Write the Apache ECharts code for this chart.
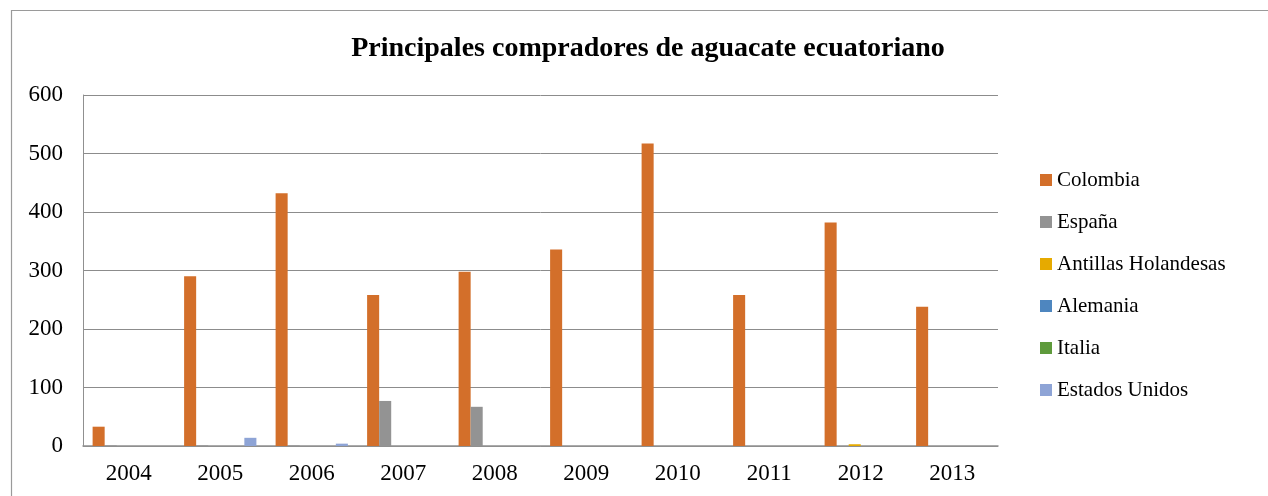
<!DOCTYPE html>
<html><head><meta charset="utf-8">
<script src="https://cdn.jsdelivr.net/npm/echarts@6/dist/echarts.min.js"></script>
<style>html,body{margin:0;padding:0;background:#fff;}#c{width:1268px;height:496px;}</style>
</head><body><div id="c"></div>
<script>
const years = ['2004','2005','2006','2007','2008','2009','2010','2011','2012','2013'];
const colombia = [33, 290, 432, 258, 298, 336, 517, 258, 382, 238];
const espana = [1, 1, 1, 77, 67, 0, 0, 0, 0, 0];
const antillas = [0, 0, 0, 0, 0, 0, 0, 0, 3, 0];
const alemania = [0, 0, 0, 0, 0, 0, 0, 0, 0, 0];
const italia = [0, 0, 0, 0, 0, 0, 0, 0, 0, 0];
const estadosUnidos = [0, 14, 4, 0, 0, 0, 0, 0, 0, 0];
const seriesNames = ['Colombia','España','Antillas Holandesas','Alemania','Italia','Estados Unidos'];
const seriesData = [colombia, espana, antillas, alemania, italia, estadosUnidos];
const colors = ['#D36F2A','#939393','#E6AA00','#4E86BF','#5E9A3C','#8EA4D6'];
const font = '"Liberation Serif", "Times New Roman", serif';

const chart = echarts.init(document.getElementById('c'));
chart.setOption({
  animation: false,
  color: colors,
  graphic: [{
    type: 'rect', left: 9, top: 8, z: -10,
    shape: { width: 1300, height: 600 },
    style: { fill: 'none', stroke: '#9a9a9a', lineWidth: 1.2 }
  }],
  title: {
    text: 'Principales compradores de aguacate ecuatoriano',
    left: 643, textAlign: 'center', top: 30,
    textStyle: { fontFamily: font, fontSize: 28, fontWeight: 'bold', color: '#000' }
  },
  legend: {
    orient: 'vertical', left: 1035, top: 163,
    itemWidth: 12, itemHeight: 12, itemGap: 18, icon: 'rect',
    textStyle: { fontFamily: font, fontSize: 21, color: '#000', lineHeight: 24 },
    data: seriesNames
  },
  grid: { left: 83, right: 270, top: 95, bottom: 50, containLabel: false },
  xAxis: {
    type: 'category', data: years,
    axisLine: { show: true, lineStyle: { color: '#909090', width: 1.5 } },
    axisTick: { show: false },
    axisLabel: { fontFamily: font, fontSize: 23, color: '#000', margin: 16 }
  },
  yAxis: {
    type: 'value', min: 0, max: 600, interval: 100,
    axisLine: { show: true, lineStyle: { color: '#909090', width: 1 } },
    axisTick: { show: false },
    splitLine: { lineStyle: { color: '#8c8c8c', width: 1 } },
    axisLabel: { fontFamily: font, fontSize: 23, color: '#000', margin: 20 }
  },
  series: seriesNames.map((n, i) => ({
    name: n, type: 'bar', data: seriesData[i],
    barGap: '0%', barCategoryGap: '21%',
    itemStyle: { color: colors[i] }
  }))
});
</script></body></html>
